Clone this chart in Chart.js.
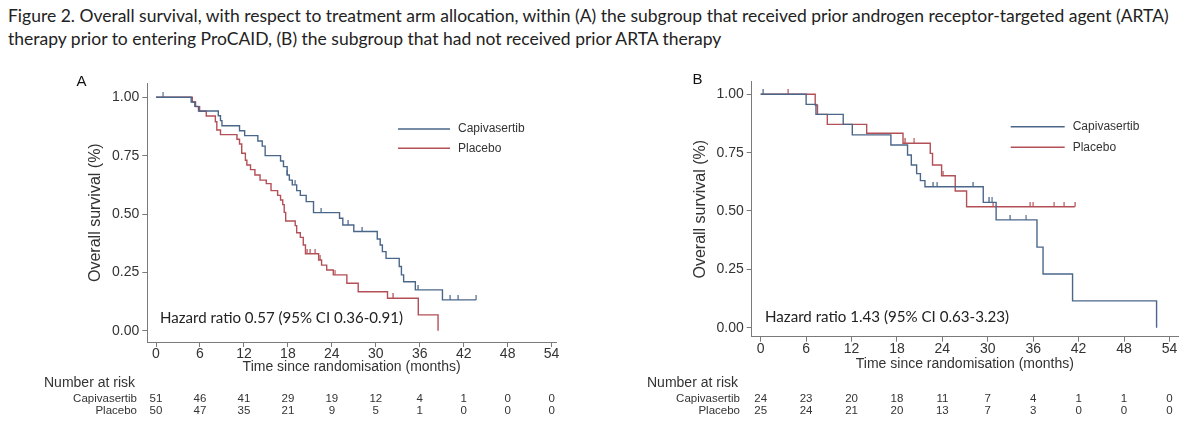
<!DOCTYPE html>
<html>
<head>
<meta charset="utf-8">
<script src="https://cdn.jsdelivr.net/npm/chart.js@4.4.1/dist/chart.umd.min.js"></script>
<style>
body { margin: 0; background: #fff; width: 1200px; height: 427px; overflow: hidden; position: relative; }
#title { position: absolute; left: 8px; top: 4px; font-family: Lato; font-size: 16.5px; line-height: 23px; color: #222; white-space: nowrap; }
.panel { position: absolute; top: 0; width: 600px; height: 427px; }
</style>
</head>
<body>
<div id="title">
  <div id="t1">Figure 2. Overall survival, with respect to treatment arm allocation, within (A) the subgroup that received prior androgen receptor-targeted agent (ARTA)</div>
  <div>therapy prior to entering ProCAID, (B) the subgroup that had not received prior ARTA therapy</div>
</div>
<div class="panel" style="left:0"><canvas id="chartA" width="600" height="427"></canvas></div>
<div class="panel" style="left:600px"><canvas id="chartB" width="600" height="427"></canvas></div>

<script>
const monthTicks = [0, 6, 12, 18, 24, 30, 36, 42, 48, 54];
const survTicks = [0, 0.25, 0.5, 0.75, 1];
const armNames = ['Capivasertib', 'Placebo'];

// panel A - prior ARTA
const aCapTime = [0, 4.8, 5.3, 5.8, 8.5, 8.8, 9.0, 11.4, 12.1, 13.9, 14.5, 14.9, 17.0, 17.4, 17.9, 18.2, 18.6, 19.2, 19.7, 20.5, 21.5, 25.05, 25.5, 27.0, 30.2, 30.6, 30.9, 31.4, 33.2, 33.5, 33.8, 35.4, 39.1, 43.7];
const aCapSurv = [1, 0.98, 0.961, 0.941, 0.921, 0.90, 0.878, 0.857, 0.836, 0.813, 0.791, 0.75, 0.727, 0.703, 0.667, 0.645, 0.625, 0.60, 0.58, 0.553, 0.506, 0.482, 0.453, 0.425, 0.393, 0.367, 0.339, 0.31, 0.275, 0.239, 0.21, 0.175, 0.132, 0.132];
const aCapCens = [1.0, 17.9, 19.0, 22.5, 26.2, 28.1, 35.7, 40.1, 41.2, 43.7];
const aPlaTime = [0, 4.95, 5.4, 5.95, 6.86, 8.1, 8.3, 8.8, 11.05, 11.4, 11.7, 12.2, 12.4, 12.9, 13.5, 14.2, 15.05, 15.7, 16.6, 17.0, 17.3, 17.5, 17.7, 19.0, 19.2, 19.7, 20.1, 20.4, 22.2, 22.6, 23.3, 24.2, 26.05, 27.6, 31.6, 35.8, 38.5];
const aPlaSurv = [1, 0.98, 0.96, 0.94, 0.92, 0.895, 0.86, 0.84, 0.82, 0.80, 0.76, 0.73, 0.71, 0.69, 0.667, 0.645, 0.63, 0.60, 0.58, 0.56, 0.54, 0.507, 0.47, 0.45, 0.42, 0.40, 0.367, 0.33, 0.303, 0.281, 0.26, 0.239, 0.203, 0.167, 0.139, 0.068, 0];
const aPlaCens = [20.6, 21.0, 21.7, 22.4, 24.5, 32.3];
const aRiskCap = [51, 46, 41, 29, 19, 12, 4, 1, 0, 0];
const aRiskPla = [50, 47, 35, 21, 9, 5, 1, 0, 0, 0];
const aHazard = 'Hazard ratio 0.57 (95% CI 0.36-0.91)';

// panel B - no prior ARTA
const bCapTime = [0, 6.0, 7.3, 10.9, 12.1, 17.2, 19.4, 19.9, 20.6, 21.1, 21.7, 29.4, 31.1, 36.5, 37.3, 41.2, 52.3];
const bCapSurv = [1, 0.957, 0.914, 0.871, 0.826, 0.783, 0.74, 0.697, 0.66, 0.63, 0.604, 0.537, 0.462, 0.345, 0.23, 0.115, 0];
const bCapCens = [0.3, 22.7, 23.3, 28.0, 30.1, 30.6, 32.9, 35.1];
const bPlaTime = [0, 7.2, 7.5, 8.8, 14.0, 18.8, 22.4, 22.7, 23.9, 25.7, 27.2, 41.5];
const bPlaSurv = [1, 0.954, 0.914, 0.871, 0.833, 0.79, 0.747, 0.697, 0.651, 0.586, 0.518, 0.518];
const bPlaCens = [3.6, 19.0, 20.3, 24.1, 30.7, 35.6, 36.0, 38.8, 40.1, 41.5];
const bRiskCap = [24, 23, 20, 18, 11, 7, 4, 1, 1, 0];
const bRiskPla = [25, 24, 21, 20, 13, 7, 3, 0, 0, 0];
const bHazard = 'Hazard ratio 1.43 (95% CI 0.63-3.23)';

const blue = '#4a678a';
const red = '#b34f57';
const axisCol = '#7a7a7a';
const textCol = '#333333';

// fit the caption to the width it has in the figure
(function fitTitle() {
    const t = document.getElementById('title');
    const w = document.getElementById('t1').getBoundingClientRect().width;
    t.style.fontSize = (16.5 * 1162 / w) + 'px';
})();

function censorMark(color) {
    const c = document.createElement('canvas');
    c.width = 2; c.height = 10;
    const g = c.getContext('2d');
    g.fillStyle = color;
    g.fillRect(0.5, 0, 1.2, 5);
    return c;
}

function survAt(times, surv, t) {
    let s = surv[0];
    for (let i = 0; i < times.length; i++) {
        if (times[i] <= t) s = surv[i];
    }
    return s;
}

function curve(label, color, times, surv) {
    return {
        label: label,
        data: times.map((t, i) => ({ x: t, y: surv[i] })),
        borderColor: color,
        borderWidth: 1.4,
        showLine: true,
        stepped: true,
        pointRadius: 0,
        fill: false
    };
}

function censors(color, times, surv, cens) {
    return {
        label: '',
        isCensor: true,
        data: cens.map(t => ({ x: t, y: survAt(times, surv, t) })),
        showLine: false,
        pointStyle: censorMark(color),
        pointRadius: 5
    };
}

const kmExtras = {
    id: 'kmExtras',
    afterDraw(chart, args, o) {
        const ctx = chart.ctx;
        const xs = chart.scales.x;
        ctx.save();
        ctx.textBaseline = 'middle';

        ctx.fillStyle = '#111';
        ctx.textAlign = 'left';
        ctx.font = '15px "Liberation Sans"';
        ctx.fillText(o.letter, o.letterX, o.letterY);

        // legend
        chart.data.datasets.filter(d => !d.isCensor).forEach((d, i) => {
            const y = o.legendY + i * o.legendGap;
            ctx.strokeStyle = d.borderColor;
            ctx.lineWidth = 1.4;
            ctx.beginPath();
            ctx.moveTo(o.legendX, y);
            ctx.lineTo(o.legendX + o.legendLen, y);
            ctx.stroke();
            ctx.fillStyle = textCol;
            ctx.font = '12px "Liberation Sans"';
            ctx.fillText(d.label, o.legendX + o.legendLen + 8, y);
        });

        // hazard ratio
        ctx.font = '15px Lato';
        const hw = ctx.measureText(o.hr).width;
        ctx.font = (15 * o.hrWidth / hw).toFixed(2) + 'px Lato';
        ctx.fillStyle = '#222';
        ctx.fillText(o.hr, o.hrX, o.hrY);

        // number at risk
        ctx.fillStyle = textCol;
        ctx.font = '14px "Liberation Sans"';
        ctx.fillText('Number at risk', o.riskLabelX, o.riskY[0]);
        ctx.font = '11.5px "Liberation Sans"';
        ctx.textAlign = 'right';
        o.riskRows.forEach((r, i) => ctx.fillText(armNames[i], o.riskNameX, o.riskY[i + 1]));
        ctx.textAlign = 'center';
        o.riskRows.forEach((r, i) => {
            r.forEach((n, j) => ctx.fillText(String(n), xs.getPixelForValue(monthTicks[j]), o.riskY[i + 1]));
        });
        ctx.restore();
    }
};

function makeKM(id, p) {
    const tickFont = { family: 'Liberation Sans', size: 14 };
    return new Chart(document.getElementById(id), {
        type: 'scatter',
        data: { datasets: p.datasets },
        options: {
            responsive: false,
            animation: false,
            layout: { padding: { left: 0, top: p.top, right: p.right, bottom: 0 } },
            plugins: {
                legend: { display: false },
                tooltip: { enabled: false },
                kmExtras: p.extras
            },
            scales: {
                x: {
                    type: 'linear',
                    min: p.xMin, max: p.xMax,
                    afterBuildTicks: s => { s.ticks = monthTicks.map(v => ({ value: v })); },
                    afterFit: s => { s.height = p.xHeight; s.paddingLeft = 0; s.paddingRight = 0; },
                    grid: { drawOnChartArea: false, drawTicks: true, tickLength: 5, color: axisCol },
                    border: { display: true, color: axisCol, width: 1 },
                    ticks: { font: tickFont, color: textCol, padding: -1, maxRotation: 0, autoSkip: false },
                    title: {
                        display: true, text: 'Time since randomisation (months)',
                        font: { family: 'Liberation Sans', size: 14 }, color: textCol,
                        padding: { top: 0, bottom: p.xTitlePad }
                    }
                },
                y: {
                    type: 'linear',
                    min: p.yMin, max: p.yMax,
                    afterBuildTicks: s => { s.ticks = survTicks.map(v => ({ value: v })); },
                    afterFit: s => { s.width = p.yWidth; s.paddingTop = 0; s.paddingBottom = 0; },
                    grid: { drawOnChartArea: false, drawTicks: true, tickLength: 5, color: axisCol },
                    border: { display: true, color: axisCol, width: 1 },
                    ticks: { font: tickFont, color: textCol, padding: 3, callback: v => v.toFixed(2) },
                    title: {
                        display: true, text: 'Overall survival (%)',
                        font: { family: 'Liberation Sans', size: 16 }, color: textCol,
                        padding: { top: p.yTitlePad, bottom: 0 }
                    }
                }
            }
        },
        plugins: [kmExtras]
    });
}

makeKM('chartA', {
    datasets: [
        curve(armNames[0], blue, aCapTime, aCapSurv),
        curve(armNames[1], red, aPlaTime, aPlaSurv),
        censors(blue, aCapTime, aCapSurv, aCapCens),
        censors(red, aPlaTime, aPlaSurv, aPlaCens)
    ],
    top: 83.3, right: 44, xHeight: 85, yWidth: 147.3,
    xMin: -1.19, xMax: 54.6, yMin: -0.0484, yMax: 1.06,
    xTitlePad: 51, yTitlePad: 86,
    extras: {
        letter: 'A', letterX: 76.5, letterY: 82,
        legendX: 398, legendY: 129, legendGap: 19.3, legendLen: 52,
        hr: aHazard, hrX: 160, hrY: 318.3, hrWidth: 243,
        riskLabelX: 44, riskNameX: 137, riskY: [383.5, 398.5, 410.5],
        riskRows: [aRiskCap, aRiskPla]
    }
});

makeKM('chartB', {
    datasets: [
        curve(armNames[0], blue, bCapTime, bCapSurv),
        curve(armNames[1], red, bPlaTime, bPlaSurv),
        censors(blue, bCapTime, bCapSurv, bCapCens),
        censors(red, bPlaTime, bPlaSurv, bPlaCens)
    ],
    top: 81.7, right: 22, xHeight: 90.3, yWidth: 151.7,
    xMin: -1.19, xMax: 55.13, yMin: -0.0386, yMax: 1.054,
    xTitlePad: 54, yTitlePad: 91,
    extras: {
        letter: 'B', letterX: 92.5, letterY: 80,
        legendX: 410.7, legendY: 126.7, legendGap: 20.6, legendLen: 54,
        hr: bHazard, hrX: 165, hrY: 316.7, hrWidth: 244,
        riskLabelX: 47, riskNameX: 140, riskY: [383.5, 398.5, 410.5],
        riskRows: [bRiskCap, bRiskPla]
    }
});
</script>
</body>
</html>
